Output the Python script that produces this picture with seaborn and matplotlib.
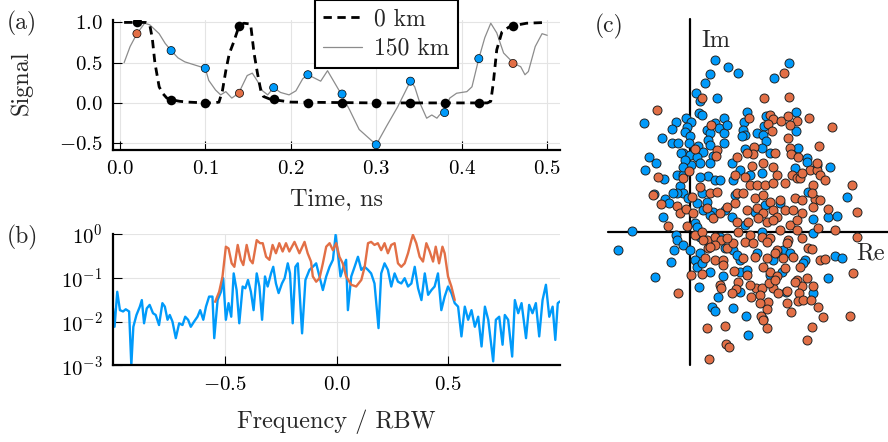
import numpy as np
import pandas as pd
import seaborn as sns
import matplotlib
matplotlib.use('Agg')
import matplotlib.pyplot as plt
from matplotlib.ticker import NullLocator

BLUE = '#009AFA'
ORANGE = '#E26F46'

# (a) time traces, 0 km and after 150 km
t_0km = [0.005, 0.020, 0.030, 0.035, 0.038, 0.041, 0.046, 0.050, 0.055, 0.060, 0.070, 0.080,
         0.100, 0.110, 0.116, 0.120, 0.124, 0.128, 0.133, 0.139, 0.145, 0.153, 0.157, 0.161,
         0.165, 0.168, 0.175, 0.180, 0.200, 0.300, 0.400, 0.430, 0.434, 0.437, 0.441, 0.447,
         0.455, 0.461, 0.476, 0.500]
sig_0km = [1.0, 1.0, 1.0, 0.97, 0.80, 0.50, 0.20, 0.12, 0.06, 0.04, 0.02, 0.01,
           0.0, 0.0, 0.01, 0.15, 0.40, 0.61, 0.75, 0.94, 0.99, 0.98, 0.62, 0.37,
           0.15, 0.08, 0.05, 0.04, 0.01, 0.0, 0.0, 0.0, 0.02, 0.25, 0.66, 0.88,
           0.94, 0.96, 0.99, 1.0]

t_150km = [0.005, 0.012, 0.020, 0.029, 0.035, 0.046, 0.053, 0.060, 0.068, 0.076, 0.088, 0.100,
           0.104, 0.112, 0.118, 0.124, 0.131, 0.139, 0.149, 0.155, 0.161, 0.167, 0.173, 0.180,
           0.188, 0.198, 0.206, 0.214, 0.220, 0.235, 0.243, 0.259, 0.269, 0.280, 0.300, 0.312,
           0.325, 0.333, 0.340, 0.345, 0.351, 0.359, 0.365, 0.371, 0.374, 0.380, 0.386, 0.394,
           0.406, 0.412, 0.420, 0.427, 0.434, 0.441, 0.449, 0.461, 0.469, 0.474, 0.478, 0.486,
           0.494, 0.500]
sig_150km = [0.50, 0.70, 0.86, 0.99, 0.97, 0.86, 0.74, 0.65, 0.56, 0.51, 0.47, 0.43,
             0.28, 0.16, 0.10, 0.14, 0.06, 0.12, 0.34, 0.37, 0.27, 0.15, 0.10, 0.19,
             0.13, 0.10, 0.15, 0.30, 0.35, 0.27, 0.40, 0.11, -0.09, -0.33, -0.52, -0.29,
             -0.05, 0.12, 0.27, 0.20, 0.00, -0.19, -0.15, -0.19, -0.15, -0.10, 0.06, 0.12,
             0.14, 0.20, 0.55, 0.81, 0.99, 0.87, 0.62, 0.49, 0.45, 0.35, 0.39, 0.70,
             0.86, 0.84]

t_samp = [0.02, 0.06, 0.10, 0.14, 0.18, 0.22, 0.26, 0.30, 0.34, 0.38, 0.42, 0.46]
samp_0km = [1.0, 0.04, 0.0, 0.96, 0.05, 0.0, 0.0, 0.0, 0.0, 0.0, 0.0, 0.96]
samp_150km = [0.86, 0.65, 0.43, 0.12, 0.19, 0.35, 0.11, -0.52, 0.27, -0.12, 0.55, 0.49]
bits = [1, 0, 0, 1, 0, 0, 0, 0, 0, 0, 0, 1]

# (b) spectra, log10 of power
f_rx = [-1.0, -0.993, -0.981, -0.969, -0.955, -0.943, -0.928, -0.918, -0.909, -0.895,
        -0.880, -0.871, -0.861, -0.849, -0.836, -0.821, -0.809, -0.794, -0.779, -0.768,
        -0.756, -0.746, -0.734, -0.719, -0.704, -0.689, -0.677, -0.664, -0.652, -0.637,
        -0.622, -0.610, -0.596, -0.584, -0.570, -0.555, -0.547, -0.532, -0.517, -0.507,
        -0.495, -0.483, -0.471, -0.460, -0.447, -0.435, -0.420, -0.408, -0.396, -0.383,
        -0.371, -0.357, -0.345, -0.333, -0.320, -0.308, -0.293, -0.283, -0.271, -0.259,
        -0.244, -0.232, -0.218, -0.208, -0.196, -0.184,
        -0.173, -0.154, -0.139, -0.121, -0.106, -0.091, -0.076, -0.061, -0.046, -0.031,
        -0.016, -0.004, 0.006, 0.018, 0.031, 0.043, 0.051, 0.066, 0.081, 0.096,
        0.111, 0.126, 0.141, 0.155, 0.170, 0.188, 0.200, 0.215, 0.230, 0.245,
        0.260, 0.275, 0.290, 0.305, 0.320, 0.335, 0.350, 0.365, 0.380, 0.395,
        0.410, 0.425, 0.439, 0.454, 0.469, 0.484, 0.499, 0.514, 0.529, 0.544,
        0.559, 0.574, 0.589, 0.604, 0.619, 0.634, 0.649, 0.664, 0.679, 0.701,
        0.713, 0.728, 0.743, 0.753, 0.768, 0.786, 0.798, 0.813, 0.828, 0.848,
        0.862, 0.877, 0.892, 0.907, 0.922, 0.937, 0.952, 0.967, 0.979, 0.990, 1.0]
logp_rx = [-1.70, -2.12, -1.32, -1.74, -1.77, -1.72, -1.77, -3.0, -2.12, -1.85,
           -1.66, -1.51, -2.04, -1.70, -1.62, -1.81, -1.85, -2.08, -1.58, -1.66,
           -1.96, -1.85, -2.00, -2.38, -2.04, -2.08, -1.89, -1.96, -2.12, -2.00,
           -1.89, -1.74, -1.96, -1.66, -1.43, -1.43, -2.38, -1.51, -1.32, -1.01,
           -1.96, -1.58, -1.89, -0.90, -1.28, -2.04, -1.20, -1.24, -1.05, -1.32,
           -1.74, -0.90, -1.20, -1.96, -0.97, -1.20, -0.90, -0.75, -1.13, -1.35,
           -1.13, -1.01, -0.67, -0.90, -2.04, -0.75,
           -0.67, -2.27, -1.05, -0.82, -0.75, -0.67, -0.97, -1.28, -0.97, -0.75,
           -0.59, -0.02, -0.44, -0.97, -0.75, -0.59, -1.74, -0.97, -0.75, -0.52,
           -0.82, -0.75, -0.82, -0.90, -1.13, -2.15, -0.90, -0.67, -0.82, -1.20,
           -0.90, -1.09, -1.13, -1.01, -1.20, -1.13, -0.75, -1.24, -1.51, -0.90,
           -1.39, -1.28, -1.20, -0.90, -1.74, -1.43, -1.20, -1.35, -1.58, -1.66,
           -2.34, -1.66, -1.96, -1.74, -2.12, -1.89, -2.57, -1.66, -1.96, -2.91,
           -1.96, -1.89, -2.53, -1.85, -1.96, -2.80, -1.51, -1.81, -1.58, -2.38,
           -1.62, -1.81, -1.58, -2.34, -1.51, -1.16, -1.89, -1.66, -2.42, -1.58, -1.54]

f_tx = [-0.543, -0.525, -0.510, -0.495, -0.483, -0.469, -0.457, -0.442, -0.428, -0.417,
        -0.402, -0.387, -0.375, -0.357, -0.342, -0.330, -0.315, -0.300, -0.286, -0.271,
        -0.256, -0.241, -0.226, -0.211, -0.188, -0.166, -0.143, -0.129, -0.114, -0.106,
        -0.091, -0.076, -0.061, -0.046, -0.031, -0.016, -0.001, 0.013, 0.028, 0.043,
        0.066, 0.088, 0.111, 0.126, 0.141, 0.155, 0.170, 0.185, 0.200, 0.215,
        0.230, 0.245, 0.260, 0.275, 0.290, 0.305, 0.320, 0.335, 0.342, 0.357,
        0.372, 0.387, 0.402, 0.417, 0.432, 0.444, 0.459, 0.474, 0.484, 0.499,
        0.514, 0.529]
logp_tx = [-1.55, -1.32, -0.97, -0.29, -0.33, -0.67, -0.75, -0.25, -0.59, -0.71,
           -0.25, -0.59, -0.67, -0.14, -0.21, -0.21, -0.52, -0.59, -0.25, -0.44,
           -0.21, -0.40, -0.21, -0.40, -0.18, -0.44, -0.18, -0.44, -0.63, -0.97,
           -1.09, -1.01, -0.67, -0.29, -0.21, -0.37, -0.21, -0.52, -0.67, -0.97,
           -1.16, -1.20, -1.05, -0.75, -0.21, -0.18, -0.25, -0.21, -0.37, -0.21,
           -0.44, -0.25, -0.21, -0.67, -0.75, -0.67, -0.44, -0.14, -0.02, -0.21,
           -0.52, -0.63, -0.21, -0.40, -0.63, -0.29, -0.67, -0.29, -0.44, -0.97,
           -1.20, -1.51]

# (c) constellation points
re_blue = [2.5, 3.8, 2.0, 1.5, 0.6, 1.0, 2.7, 0.9, 1.2, -4.6, -1.4, -0.4, 0.1, -1.8, -0.3, -0.5,
           0.0, -2.8, -1.8, -1.2, -0.1, 0.8, 1.7, 2.0, 2.5, 2.9, 3.4, 3.4, 3.7, 1.8, 2.0, 3.4,
           -0.7, 0.0, 1.3, -4.1, 0.7, 2.3, 4.8, 8.4, 9.9, 5.7, 5.4, 5.3, 5.5, 5.2, 7.6, 7.4,
           6.7, 7.3, 7.6, 5.5, 7.2, 10.6, 10.6, 10.8, 11.7, 8.0, -4.5, -3.4, -1.3, -0.7, -1.0, -0.7,
           -1.3, -2.5, -2.1, -1.7, -2.7, -5.8, -7.2, -1.4, -1.3, -0.7, -1.6, 0.0, -1.9, -0.2, 0.5, 0.7,
           1.0, 2.0, 0.1, 1.8, 2.5, 1.0, 0.7, 1.2, 1.7, 2.3, 1.3, 1.0, 0.5, 3.5, 4.2, 5.0,
           6.0, 7.2, 10.5, 11.7, 12.7, 14.0, 4.3, 7.5, 9.0, 11.8, 15.7, 13.8, 14.7, 12.3, 4.2, 7.2,
           12.3, 4.3, 6.7, 9.3, 11.5, 14.5, 15.2, -3.5, 0.9, 2.8, 2.2, 2.5, 3.3, 2.0, 0.7, 5.0,
           8.0, 9.2, 12.3, 13.8, 4.3, 5.6, 7.3, 5.8, 5.0, 9.6, -3.6, -2.6, -0.9, -0.5, -0.7, 3.0,
           4.5, 3.5, 5.5, 6.5, 3.0, 5.0, 2.0, 1.0, 1.2, 4.7, 5.7, 8.7, 8.3, 10.0, 11.3]
im_blue = [17.2, 16.5, 15.8, 14.9, 13.9, 13.1, 13.4, 11.9, 11.7, 10.9, 11.0, 11.4, 11.0, 10.3, 10.5, 10.0,
           9.6, 9.4, 8.9, 8.9, 8.9, 8.6, 10.2, 9.9, 10.9, 10.4, 11.4, 9.9, 10.7, 9.2, 8.7, 8.9,
           7.9, 7.7, 8.0, 7.5, 7.5, 7.6, 15.9, 15.4, 16.9, 12.0, 11.0, 10.2, 9.7, 9.6, 11.6, 10.6,
           9.9, 9.7, 9.1, 8.3, 8.4, 12.0, 10.1, 8.4, 7.4, 7.9, 6.2, 6.9, 5.7, 5.7, 4.6, 3.9,
           3.9, 3.3, 2.9, 3.9, 1.5, 0.1, -1.8, -0.3, -0.8, -1.3, -1.8, -1.8, -3.0, 3.4, 0.9, 0.5,
           6.9, 6.9, 6.7, 5.6, 5.2, 5.5, 2.9, 3.9, 3.0, 2.0, 2.2, -2.1, -2.8, -1.6, 6.9, 6.2,
           5.7, 5.9, 6.4, 7.0, 6.7, 6.5, 5.2, 2.7, 2.9, 4.0, 3.5, 1.5, 1.6, 1.3, 1.5, 0.0,
           -0.1, -1.8, -2.1, -1.8, -2.8, -2.4, -2.6, -4.5, -5.5, -6.5, -7.5, -7.9, -4.4, -4.0, -3.5, -4.0,
           -4.3, -4.0, -6.1, -4.6, -7.6, -8.4, -8.7, -10.3, -6.0, -6.0, 3.8, 5.3, 7.9, 7.2, 6.5, 5.2,
           3.7, 2.2, 0.7, 2.0, -0.5, -2.8, 1.7, -0.5, -3.1, -2.3, -3.8, -2.1, -2.8, -2.1, -3.1]

re_orange = [1.2, -3.3, 2.1, 0.5, 2.7, 2.6, 9.4, 7.4, 9.9, 5.9, 8.0, 8.3, 7.8, 8.2, 9.1, 9.8,
             10.7, 11.9, 14.2, 9.8, 6.4, 6.3, 8.5, 10.0, 10.1, 12.9, 10.8, 4.7, -3.2, -3.7, -2.9, -1.3,
             -1.0, -0.4, -2.2, -0.3, 0.2, -0.7, -0.1, 1.0, 2.0, 2.7, 1.7, 2.3, 3.0, 3.7, 0.5, 1.2,
             1.7, 2.5, 3.1, 1.8, 2.5, 1.5, 2.5, 3.3, 3.7, 6.2, 7.3, 8.3, 8.7, 10.2, 10.7, 11.0,
             12.0, 12.7, 12.7, 4.5, 5.5, 6.0, 6.7, 7.5, 8.3, 9.5, 4.7, 5.3, 6.5, 7.3, 8.0, 9.0,
             10.5, 11.2, 12.5, 12.3, 12.2, 13.0, 4.5, 5.7, 6.7, 7.3, 8.3, 8.7, 9.5, 10.3, 11.2, 12.3,
             13.8, 4.7, 5.8, 6.8, 7.7, 8.3, 10.0, 10.7, 12.8, 14.5, 16.2, 16.7, 16.7, 4.8, 6.0, 7.2,
             8.0, 9.0, 9.8, 11.2, 10.7, 4.3, 5.5, 6.3, 7.7, 8.7, 9.7, 11.8, 12.2, 5.3, 6.5, 7.7,
             8.5, 9.3, 10.3, 13.0, 13.5, 0.1, 1.2, -1.2, 3.0, 3.1, 1.7, 3.5, 3.6, 1.9, 3.9, 4.4,
             5.7, 4.8, 4.6, 4.2, 6.6, 7.2, 6.1, 7.0, 8.0, 8.7, 9.5, 10.7, 11.7, 11.2, 12.3, 8.3,
             8.8, 9.7, 10.9, 7.9, 7.8, 7.0, 9.7, 10.8, 11.3, 12.1, 12.8, 10.1, 7.7, 7.1, 13.3, 16.0,
             12.2, 7.7, 11.7, 16.3, 7.3, 11.0, 7.3, 10.0, 5.7, 11.2, 13.0, 13.5, 0.3, 1.3, 2.0, 3.7,
             3.3, 6.0, 8.5, 10.5]
im_orange = [13.4, 12.2, 10.7, 8.3, 8.2, 7.6, 15.9, 13.4, 13.5, 11.4, 11.7, 11.3, 10.8, 10.1, 11.1, 11.6,
             11.1, 11.4, 10.5, 9.4, 8.5, 7.8, 7.9, 8.4, 7.8, 8.6, 7.5, 7.5, 5.5, 3.7, 2.8, 2.6,
             1.9, 2.3, 0.6, 0.6, 3.5, 5.4, 6.1, 4.5, 3.9, 4.0, 2.4, 1.4, 1.9, 2.5, -0.3, 0.0,
             -0.8, -0.5, -0.8, -1.6, -1.3, -2.6, -2.8, -2.8, -1.6, 6.6, 6.9, 6.5, 5.7, 5.7, 5.4, 5.4,
             6.2, 6.2, 6.9, 5.7, 5.5, 4.7, 4.7, 4.7, 4.9, 4.9, 3.9, 3.9, 3.4, 3.7, 3.0, 3.2,
             3.4, 3.2, 3.3, 4.7, 3.9, 3.2, 2.9, 2.2, 2.4, 1.9, 2.2, 1.5, 2.2, 2.2, 1.9, 2.5,
             2.3, 1.0, 1.0, 1.4, 1.0, 1.2, 0.7, 1.2, 0.4, 0.2, 4.7, 2.0, -0.5, 0.0, -0.3, -0.5,
             -0.6, 0.2, -0.8, -0.6, 0.2, -1.1, -1.0, -1.1, -1.0, -1.8, -1.1, -1.6, -1.7, -2.6, -2.5, -2.6,
             -2.1, -2.6, -2.5, -2.8, -2.7, -4.3, -4.2, -6.1, -5.3, -5.6, -9.6, -9.4, -11.2, -12.7, -11.5, -3.9,
             -4.3, -5.0, -5.7, -6.1, -5.6, -5.6, -6.5, -6.3, -4.0, -4.4, -3.6, -4.8, -4.6, -5.4, -5.4, -5.6,
             -6.1, -5.9, -6.1, -5.1, -7.0, -7.1, -7.1, -6.9, -6.8, -6.8, -7.5, -8.0, -7.7, -8.4, -8.5, -8.4,
             -9.5, -9.6, -10.8, -4.1, -3.5, -3.5, -8.8, 10.7, 7.9, 5.9, 5.7, 5.2, 1.9, -0.8, -1.5, -0.6,
             -3.3, -5.3, -4.8, -5.0]

sns.set_theme(style='white')
plt.rcParams.update({
    'font.family': 'cmr10',
    'mathtext.fontset': 'cm',
    'mathtext.default': 'regular',
    'axes.formatter.use_mathtext': True,
    'axes.unicode_minus': True,
    'lines.dashed_pattern': [3.0, 2.0],
})


def style_axes(ax):
    for s in ['top', 'right']:
        ax.spines[s].set_visible(False)
    for s in ['left', 'bottom']:
        ax.spines[s].set_visible(True)
        ax.spines[s].set_color('black')
        ax.spines[s].set_linewidth(1.6)
    ax.grid(True, color='#e4e4e4', lw=0.8)
    ax.set_axisbelow(True)
    ax.tick_params(direction='in', length=6.5, width=0.8, color='black',
                   labelsize=15, pad=7.5, left=True, bottom=True, labelcolor='black')


fig = plt.figure(figsize=(8.88, 4.42), dpi=100)
W, H = 888, 442
ax_a = fig.add_axes([113 / W, (H - 150) / H, 447 / W, 130 / H])
ax_b = fig.add_axes([113 / W, (H - 365.3) / H, 447 / W, 131.3 / H])
ax_c = fig.add_axes([600 / W, (H - 370) / H, 288 / W, 358 / H])

# ---- (a)
style_axes(ax_a)
sns.lineplot(x=t_0km, y=sig_0km, ax=ax_a, color='black', lw=2.0, linestyle='--',
             sort=False, estimator=None, label='0 km', zorder=3)
sns.lineplot(x=t_150km, y=sig_150km, ax=ax_a, color='#8c8c8c', lw=0.9,
             sort=False, estimator=None, label='150 km', zorder=2)
sns.scatterplot(x=t_samp, y=samp_0km, ax=ax_a, color='black', s=48, linewidth=0,
                zorder=4, legend=False)
samp_df = pd.DataFrame({'t': t_samp, 'v': samp_150km, 'bit': bits})
sns.scatterplot(data=samp_df, x='t', y='v', hue='bit', palette={0: BLUE, 1: ORANGE},
                ax=ax_a, s=34, edgecolor='black', linewidth=0.5, zorder=5, legend=False)
ax_a.set_xlim(-0.008, 0.515)
ax_a.set_ylim(-0.585, 1.03)
ax_a.set_xticks([0.0, 0.1, 0.2, 0.3, 0.4, 0.5])
ax_a.set_yticks([-0.5, 0.0, 0.5, 1.0])
ax_a.set_xlabel('Time, ns', fontsize=17.5)
ax_a.set_ylabel('Signal', fontsize=17.5)
ax_a.xaxis.set_label_coords(0.5, -0.29)
ax_a.yaxis.set_label_coords(-0.179, 0.515)
handles = ax_a.get_lines()[:2]
leg = ax_a.legend(handles=handles, labels=['0 km', '150 km'], loc='upper left',
                  bbox_to_anchor=(0.452, 1.152), fontsize=17, frameon=True,
                  fancybox=False, framealpha=1, edgecolor='black', borderpad=0.35,
                  handlelength=1.65, handletextpad=0.5, labelspacing=0.3,
                  borderaxespad=0)
leg.get_frame().set_linewidth(1.5)
leg.set_zorder(10)

# ---- (b)
style_axes(ax_b)
sns.lineplot(x=f_rx, y=10 ** np.array(logp_rx), ax=ax_b, color=BLUE, lw=1.7,
             sort=False, estimator=None)
sns.lineplot(x=f_tx, y=10 ** np.array(logp_tx), ax=ax_b, color=ORANGE, lw=1.7,
             sort=False, estimator=None)
ax_b.set_yscale('log')
ax_b.set_xlim(-1.0, 1.0)
ax_b.set_ylim(1e-3, 1.0)
ax_b.set_xticks([-0.5, 0.0, 0.5])
ax_b.set_yticks([1e-3, 1e-2, 1e-1, 1.0])
ax_b.yaxis.set_minor_locator(NullLocator())
ax_b.set_xlabel('Frequency / RBW', fontsize=17.5)
ax_b.xaxis.set_label_coords(0.5, -0.34)

# ---- (c)
ax_c.set_axis_off()
ax_c.set_xlim(-9.0, 19.8)
ax_c.set_ylim(-13.8, 22.0)
ax_c.plot([-8.2, 19.8], [0, 0], color='black', lw=1.6, zorder=1)
ax_c.plot([0, 0], [-13.3, 21.3], color='black', lw=1.6, zorder=1)
sns.scatterplot(x=re_blue, y=im_blue, ax=ax_c, color=BLUE, s=42, edgecolor='#222222',
                linewidth=0.7, zorder=2, legend=False)
sns.scatterplot(x=re_orange, y=im_orange, ax=ax_c, color=ORANGE, s=42, edgecolor='#222222',
                linewidth=0.7, zorder=3, legend=False)
ax_c.text(1.1, 19.15, 'Im', fontsize=17.5, ha='left', va='center')
ax_c.text(16.6, -2.1, 'Re', fontsize=17.5, ha='left', va='center')

fig.text(7 / W, 1 - 23 / H, '(a)', fontsize=17, va='center', ha='left')
fig.text(7 / W, 1 - 237 / H, '(b)', fontsize=17, va='center', ha='left')
fig.text(595 / W, 1 - 26 / H, '(c)', fontsize=17, va='center', ha='left')

fig.savefig('out.png', dpi=100)
